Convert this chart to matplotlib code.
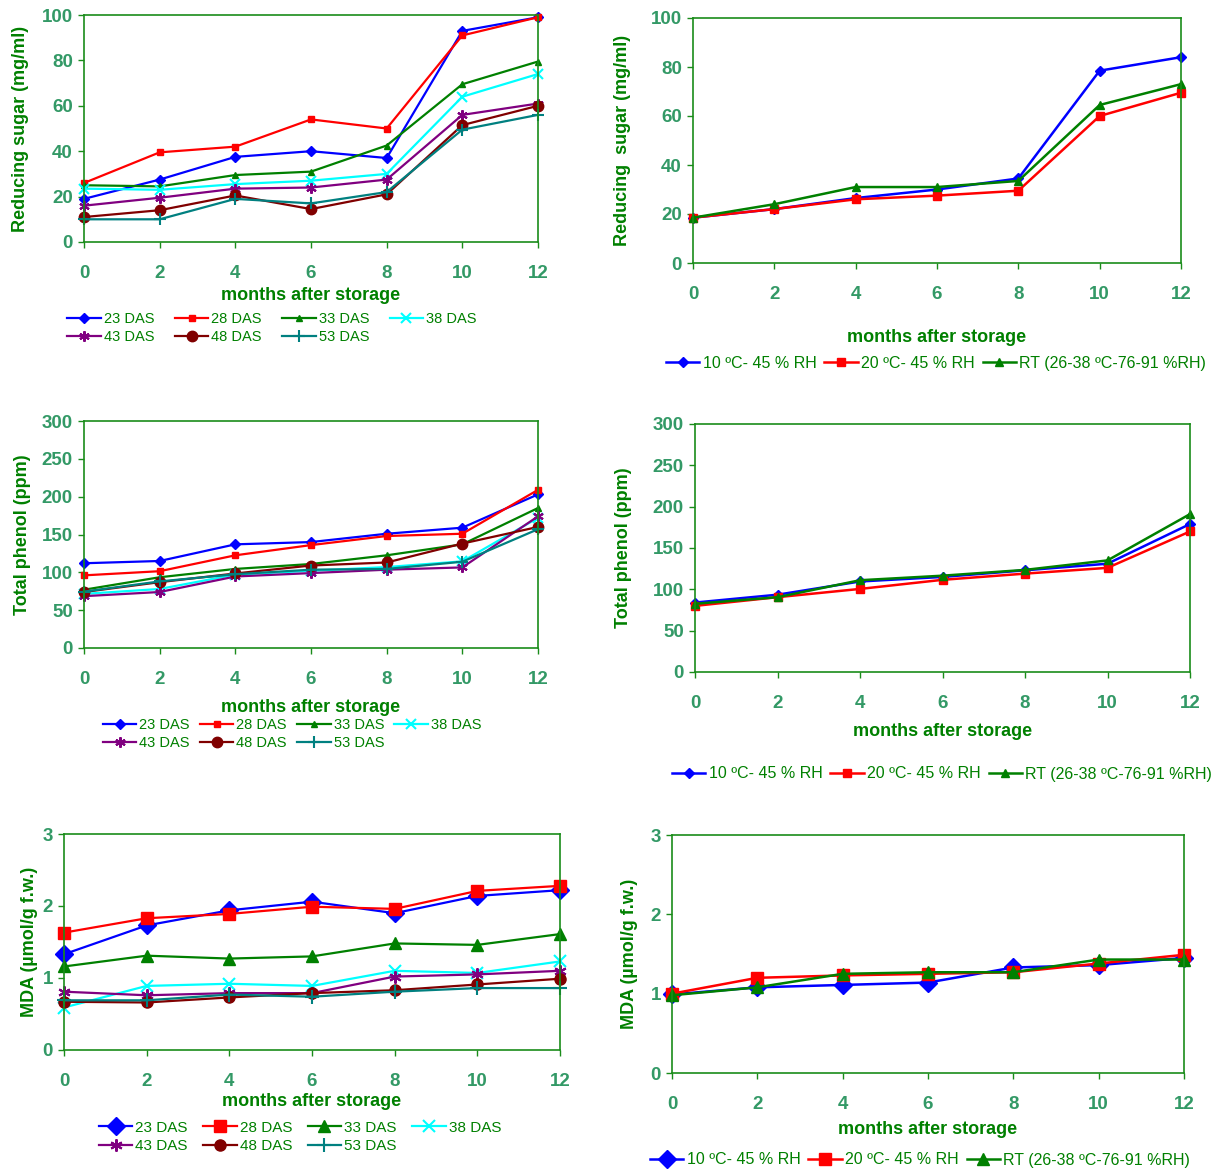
import numpy as np
import matplotlib
matplotlib.use('Agg')
import matplotlib.pyplot as plt

plt.rcParams['font.family'] = ['Liberation Sans', 'DejaVu Sans']

# Datos comunes
months = [0, 2, 4, 6, 8, 10, 12]
das_labels = ['23 DAS', '28 DAS', '33 DAS', '38 DAS', '43 DAS', '48 DAS', '53 DAS']
cond_labels = ['10 ºC- 45 % RH', '20 ºC- 45 % RH', 'RT (26-38 ºC-76-91 %RH)']

# Azucar reductor (mg/ml) por DAS
sugar_23 = [19, 27.5, 37.5, 40, 37, 93, 99]
sugar_28 = [26, 39.5, 42, 54, 50, 91, 99]
sugar_33 = [25, 24.5, 29.5, 31, 42.5, 69.5, 79.5]
sugar_38 = [23.5, 23, 25.5, 27, 30, 64, 74]
sugar_43 = [16, 19.5, 23.5, 24, 27.5, 56, 61]
sugar_48 = [11, 14, 20.5, 14.5, 21, 51.5, 60]
sugar_53 = [10, 10, 19, 17, 22, 49.5, 56]

# Azucar reductor por condicion de almacenamiento
sugar_10c = [18.5, 22, 26.5, 30, 34.5, 78.5, 84]
sugar_20c = [18.5, 22, 26, 27.5, 29.5, 60, 69.5]
sugar_rt = [18.5, 24, 31, 31, 33.5, 64.5, 73]

# Fenol total (ppm) por DAS
phenol_23 = [112, 115, 137, 140, 151, 159, 203]
phenol_28 = [96, 101.5, 122.5, 136, 148, 151, 209]
phenol_33 = [77, 93.5, 104.5, 111, 122.5, 137, 185]
phenol_38 = [71.5, 78, 97, 102, 107, 114.5, 172]
phenol_43 = [68.5, 74, 94.5, 99, 103.5, 106.5, 174]
phenol_48 = [74, 87, 98.5, 109, 113, 138, 160]
phenol_53 = [74.5, 88, 97.5, 103.5, 104.5, 114, 157]

# Fenol total por condicion
phenol_10c = [84, 93.5, 109.5, 115, 123, 131, 179]
phenol_20c = [80, 90.5, 100.5, 111.5, 119, 126, 170]
phenol_rt = [82.5, 90.5, 111, 116.5, 123.5, 135, 191]

# MDA (umol/g f.w.) por DAS
mda_23 = [1.33, 1.73, 1.94, 2.06, 1.90, 2.14, 2.22]
mda_28 = [1.63, 1.83, 1.89, 1.99, 1.96, 2.21, 2.28]
mda_33 = [1.16, 1.31, 1.27, 1.30, 1.48, 1.46, 1.61]
mda_38 = [0.59, 0.89, 0.92, 0.89, 1.10, 1.07, 1.23]
mda_43 = [0.81, 0.76, 0.79, 0.79, 1.02, 1.05, 1.10]
mda_48 = [0.67, 0.66, 0.73, 0.79, 0.83, 0.91, 0.99]
mda_53 = [0.69, 0.69, 0.77, 0.74, 0.81, 0.86, 0.86]

# MDA por condicion
mda_10c = [0.99, 1.08, 1.11, 1.14, 1.33, 1.36, 1.45]
mda_20c = [1.00, 1.20, 1.23, 1.25, 1.27, 1.38, 1.49]
mda_rt = [0.98, 1.08, 1.25, 1.27, 1.27, 1.43, 1.43]

das_colors = ['#0000FF', '#FF0000', '#008000', '#00FFFF', '#800080', '#800000', '#008080']
das_markers = ['D', 's', '^', 'x', (6, 2, 0), 'o', '+']
das_msize = [1.0, 1.0, 1.0, 1.5, 1.5, 1.5, 1.7]   # relativo al tamaño base
cond_colors = ['#0000FF', '#FF0000', '#008000']
cond_markers = ['D', 's', '^']

tick_color = '#339966'
label_color = '#008000'

W, H = 1223, 1171
fig = plt.figure(figsize=(W / 100, H / 100), dpi=100)


def make_ax(left, right, top, bottom):
    return fig.add_axes([left / W, 1 - bottom / H, (right - left) / W, (bottom - top) / H])


def style_ax(ax, ymax, ystep, ylabel, xlabel, xlabelpad, ylabelpad):
    ax.set_xlim(0, 12)
    ax.set_ylim(0, ymax)
    ax.set_xticks(months)
    ax.set_yticks(np.arange(0, ymax + ystep / 2, ystep))
    for s in ax.spines.values():
        s.set_color('#1a8c1a')
        s.set_linewidth(1.2)
    ax.tick_params(colors='#1a8c1a', labelcolor=tick_color, length=4.5, width=1)
    ax.tick_params(axis='x', pad=12)
    for t in ax.get_xticklabels() + ax.get_yticklabels():
        t.set_fontsize(13.5)
        t.set_fontweight('bold')
    ax.set_ylabel(ylabel, color=label_color, fontsize=13, fontweight='bold', labelpad=ylabelpad)
    ax.set_xlabel(xlabel, color=label_color, fontsize=13, fontweight='bold', labelpad=xlabelpad)


def draw(ax, series, labels, colors, markers, sizes, ms, lw):
    for y, lab, c, m, k in zip(series, labels, colors, markers, sizes):
        mew = 1.5 if m in ('x', '+', (6, 2, 0)) else 1
        ax.plot(months, y, color=c, marker=m, markersize=ms * k, linewidth=lw,
                markeredgewidth=mew, label=lab, clip_on=False)


def add_legend(ax, cx, cy, ncol, fs, hl, cs):
    handles, labels = ax.get_legend_handles_labels()
    if ncol == 4:
        # ordenar por filas como en el original
        order = [0, 4, 1, 5, 2, 6, 3]
        handles = [handles[i] for i in order]
        labels = [labels[i] for i in order]
    leg = ax.legend(handles, labels, loc='center', bbox_to_anchor=(cx / W, 1 - cy / H),
                    bbox_transform=fig.transFigure, ncol=ncol, frameon=True,
                    fontsize=fs, handlelength=hl, handletextpad=0.2,
                    columnspacing=cs, labelspacing=0.3, borderpad=0.1)
    leg.get_frame().set_facecolor('white')
    leg.get_frame().set_edgecolor('none')
    for t in leg.get_texts():
        t.set_color(label_color)
    return leg


# Panel 1: azucar reductor, DAS
ax1 = make_ax(84, 538, 15, 242)
draw(ax1, [sugar_23, sugar_28, sugar_33, sugar_38, sugar_43, sugar_48, sugar_53],
     das_labels, das_colors, das_markers, das_msize, 5, 1.6)
style_ax(ax1, 100, 20, 'Reducing sugar (mg/ml)', 'months after storage', 4, 9)
add_legend(ax1, 272, 328, 4, 10.5, 2.3, 1.4)

# Panel 2: azucar reductor, condicion
ax2 = make_ax(693, 1181, 18, 263)
draw(ax2, [sugar_10c, sugar_20c, sugar_rt], cond_labels, cond_colors, cond_markers,
     [1, 1, 1], 5.5, 1.8)
style_ax(ax2, 100, 20, 'Reducing  sugar (mg/ml)', 'months after storage', 19, 14)
add_legend(ax2, 936, 363, 3, 11.5, 2.1, 0.5)

# Panel 3: fenol total, DAS
ax3 = make_ax(84, 538, 421, 648)
draw(ax3, [phenol_23, phenol_28, phenol_33, phenol_38, phenol_43, phenol_48, phenol_53],
     das_labels, das_colors, das_markers, das_msize, 5, 1.6)
style_ax(ax3, 300, 50, 'Total phenol (ppm)', 'months after storage', 8, 8)
add_legend(ax3, 292, 734, 4, 10.5, 2.3, 0.7)

# Panel 4: fenol total, condicion
ax4 = make_ax(695, 1190, 424, 672)
draw(ax4, [phenol_10c, phenol_20c, phenol_rt], cond_labels, cond_colors, cond_markers,
     [1, 1, 1], 5.5, 1.8)
style_ax(ax4, 300, 50, 'Total phenol (ppm)', 'months after storage', 8, 15)
add_legend(ax4, 942, 774, 3, 11.5, 2.1, 0.5)

# Panel 5: MDA, DAS
ax5 = make_ax(64, 560, 834, 1050)
draw(ax5, [mda_23, mda_28, mda_33, mda_38, mda_43, mda_48, mda_53],
     das_labels, das_colors, das_markers, [1.1, 1.1, 1.1, 1.1, 1.1, 1.0, 1.3], 8, 1.6)
style_ax(ax5, 3, 1, 'MDA (µmol/g f.w.)', 'months after storage', 2, 3)
add_legend(ax5, 300, 1137, 4, 11, 2.2, 1.0)

# Panel 6: MDA, condicion
ax6 = make_ax(672, 1184, 835, 1073)
draw(ax6, [mda_10c, mda_20c, mda_rt], cond_labels, cond_colors, cond_markers,
     [1, 1, 1], 9, 1.8)
style_ax(ax6, 3, 1, 'MDA (µmol/g f.w.)', 'months after storage', 6, 9)
add_legend(ax6, 920, 1160, 3, 11.5, 2.1, 0.5)

plt.savefig('out.png', dpi=100)
